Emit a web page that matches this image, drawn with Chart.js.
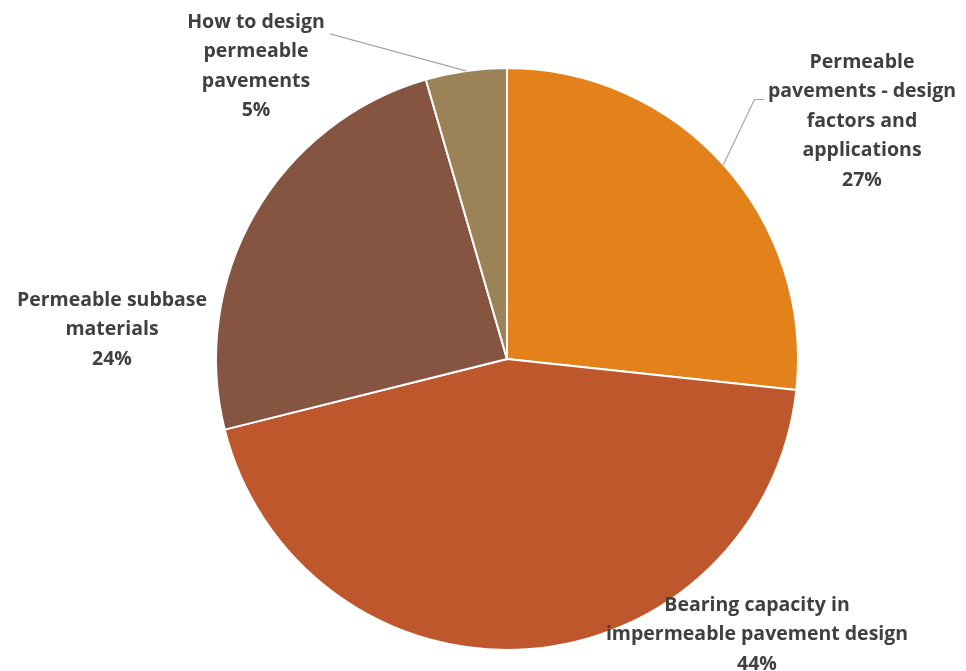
<!DOCTYPE html>
<html>
<head>
<meta charset="utf-8">
<script src="https://cdn.jsdelivr.net/npm/chart.js@4.4.0/dist/chart.umd.min.js"></script>
<style>
  html, body { margin: 0; padding: 0; background: #fff; }
  #wrap { width: 966px; height: 671px; }
</style>
</head>
<body>
<div id="wrap"><canvas id="pieChart" width="966" height="671"></canvas></div>
<script>
// slice names, clockwise from 12 o'clock (already split into lines as shown)
const categories = [
    ['Permeable', 'pavements - design', 'factors and', 'applications'],
    ['Bearing capacity in', 'impermeable pavement design'],
    ['Permeable subbase', 'materials'],
    ['How to design', 'permeable', 'pavements']
];
const shares = [26.7, 44.4, 24.4, 4.5];
const sliceColors = ['#E3821A', '#BE582C', '#855541', '#9C8257'];

// where each label sits, relative to the pie centre
const labelLayout = [
    { dx: 355, dy: -297, lead: [[31, -65], [41, -65]] },
    { dx: 250, dy: 246, lead: null },
    { dx: -395, dy: -59, lead: null },
    { dx: -251, dy: -337, lead: [[-136, -37]] }
];

const pieLabels = {
    id: 'pieLabels',
    afterDatasetsDraw(chart) {
        const ctx = chart.ctx;
        const meta = chart.getDatasetMeta(0);
        const total = shares.reduce((a, b) => a + b, 0);
        ctx.save();
        meta.data.forEach((arc, i) => {
            const p = arc.getProps(['x', 'y', 'startAngle', 'endAngle', 'outerRadius'], true);
            const spec = labelLayout[i];
            if (spec.lead) {
                const mid = (p.startAngle + p.endAngle) / 2;
                const ex = p.x + Math.cos(mid) * p.outerRadius;
                const ey = p.y + Math.sin(mid) * p.outerRadius;
                ctx.strokeStyle = '#A6A6A6';
                ctx.lineWidth = 1.2;
                ctx.beginPath();
                ctx.moveTo(ex, ey);
                spec.lead.forEach(pt => ctx.lineTo(ex + pt[0], ey + pt[1]));
                ctx.stroke();
            }
            const lines = categories[i].concat([Math.round(shares[i] / total * 100) + '%']);
            ctx.fillStyle = '#404040';
            ctx.font = 'bold 19.5px "Open Sans", Lato, sans-serif';
            ctx.textAlign = 'center';
            ctx.textBaseline = 'middle';
            lines.forEach((t, k) => {
                ctx.fillText(t, p.x + spec.dx, p.y + spec.dy + k * 29.5);
            });
        });
        ctx.restore();
    }
};

new Chart(document.getElementById('pieChart').getContext('2d'), {
    type: 'pie',
    data: {
        labels: categories,
        datasets: [{
            data: shares,
            backgroundColor: sliceColors,
            borderColor: '#ffffff',
            borderWidth: 2
        }]
    },
    options: {
        responsive: false,
        animation: false,
        layout: {
            padding: { top: 67, bottom: 20, left: 215, right: 167 }
        },
        plugins: {
            legend: { display: false },
            tooltip: { enabled: false }
        }
    },
    plugins: [pieLabels]
});
</script>
</body>
</html>
